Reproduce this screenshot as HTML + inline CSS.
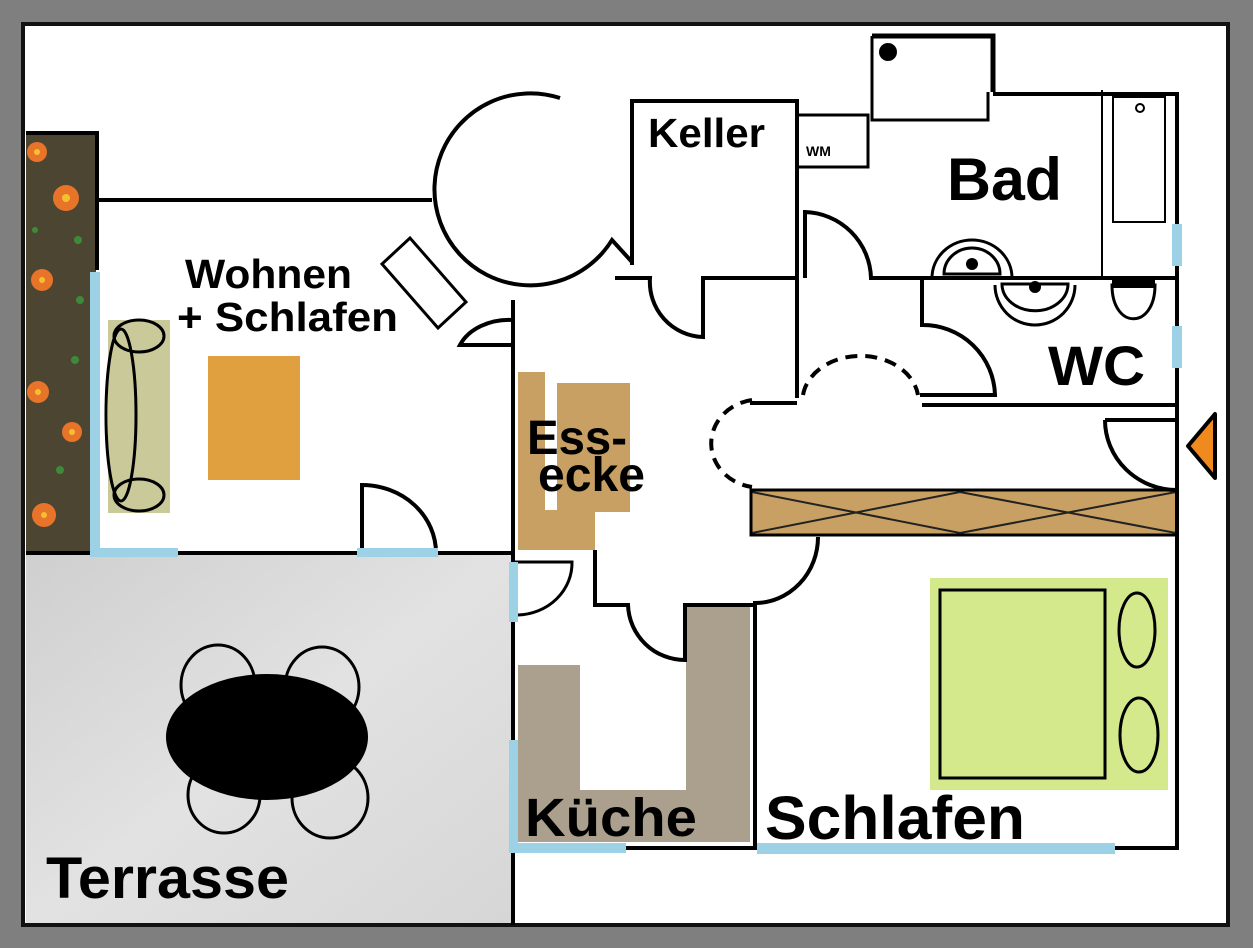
<!DOCTYPE html>
<html><head><meta charset="utf-8"><style>
html,body{margin:0;padding:0;background:#7f7f7f;}
svg{display:block;}
text{font-family:"Liberation Sans",sans-serif;font-weight:bold;fill:#000;}
</style></head><body>
<svg width="1253" height="948" viewBox="0 0 1253 948" xmlns="http://www.w3.org/2000/svg">
<defs>
<linearGradient id="tg" x1="0" y1="0" x2="1" y2="1"><stop offset="0" stop-color="#cfcfcf"/><stop offset="0.5" stop-color="#e2e2e2"/><stop offset="1" stop-color="#d6d6d6"/></linearGradient>
</defs>
<rect x="0" y="0" width="1253" height="948" fill="#7f7f7f"/>
<rect x="23" y="24" width="1205" height="901" fill="#fff" stroke="#111" stroke-width="4"/>
<rect x="26" y="553" width="487" height="370" fill="url(#tg)"/>
<rect x="26" y="133" width="70" height="418" fill="#4b4532"/>
<g fill="#e8742a">
<circle cx="37" cy="152" r="10"/><circle cx="66" cy="198" r="13"/><circle cx="42" cy="280" r="11"/><circle cx="38" cy="392" r="11"/><circle cx="72" cy="432" r="10"/><circle cx="44" cy="515" r="12"/>
</g>
<g fill="#f5c030"><circle cx="37" cy="152" r="3"/><circle cx="66" cy="198" r="4"/><circle cx="42" cy="280" r="3"/><circle cx="38" cy="392" r="3"/><circle cx="72" cy="432" r="3"/><circle cx="44" cy="515" r="3"/></g>
<g fill="#3f8a3a"><circle cx="78" cy="240" r="4"/><circle cx="80" cy="300" r="4"/><circle cx="75" cy="360" r="4"/><circle cx="60" cy="470" r="4"/><circle cx="35" cy="230" r="3"/></g>
<rect x="108" y="320" width="62" height="193" fill="#c9c99a"/>
<rect x="208" y="356" width="92" height="124" fill="#e0a040"/>
<path d="M518 372 H545 V510 H595 V550 H518 Z" fill="#c8a064"/>
<rect x="557" y="383" width="73" height="129" fill="#c8a064"/>
<path d="M518 665 H580 V790 H686 V605 H750 V842 H518 Z" fill="#aba08e"/>
<rect x="930" y="578" width="238" height="212" fill="#d3e98c"/>
<rect x="750" y="490" width="427" height="45" fill="#c8a064"/>
<g stroke="#222" stroke-width="2" fill="none">
<path d="M752 492 L960 533 M752 533 L960 492 M960 492 L1176 533 M960 533 L1176 492"/>
</g>
<g fill="none" stroke="#000" stroke-width="4" stroke-linejoin="miter">
<path d="M26 133 H97 V270"/>
<path d="M97 200 H432"/>
<path d="M560 98 A96 96 0 1 0 612 240 L632 262"/>
<path d="M632 265 V101 H797 V398"/>
<path d="M615 278 H650 A55 55 0 0 0 703 337 V278 H797"/>
<path d="M513 320 A53 40 0 0 0 460 345 H513 V925" />
<path d="M513 300 V345"/>
<path d="M26 553 H513"/>
<path d="M362 553 V485 A74 68 0 0 1 436 553"/>
<path d="M382 264 L410 238 L466 302 L438 328 Z" stroke-width="3"/>
<ellipse cx="121" cy="415" rx="15" ry="86" stroke-width="3"/>
<ellipse cx="139" cy="336" rx="25" ry="16" stroke-width="3"/>
<ellipse cx="139" cy="495" rx="25" ry="16" stroke-width="3"/>
<path d="M797 115 H868 V167 H797" stroke-width="3"/>
<path d="M872 36 H993 V92" stroke-width="5"/>
<path d="M872 36 V120 H988 V92" stroke-width="3"/>
<path d="M993 94 H1177 V850"/>
<path d="M1102 90 V278" stroke-width="2"/>
<rect x="1113" y="97" width="52" height="125" stroke-width="2"/>
<circle cx="1140" cy="108" r="4" stroke-width="2"/>
<path d="M805 278 V212 A68 68 0 0 1 871 278 H1177"/>
<path d="M932 278 A40 38 0 0 1 1012 278" stroke-width="3"/>
<path d="M944 274 A28 26 0 0 1 1000 274 Z" stroke-width="3"/>
<path d="M922 280 V325 A72 72 0 0 1 995 395 H920"/>
<path d="M922 405 H1177"/>
<path d="M995 285 A38 38 0 0 0 1075 285" stroke-width="3"/>
<path d="M1002 284 A32 26 0 0 0 1068 284 Z" stroke-width="3"/>
<path d="M1112 285 C1112 330 1155 330 1155 285 Z" stroke-width="3"/>
<path d="M1112 284 H1155" stroke-width="8"/>
<path d="M750 403 H797"/>
<path d="M803 395 A58 45 0 0 1 918 395" stroke-dasharray="12 8" stroke-width="4"/>
<path d="M752 400 A48 44 0 0 0 752 487" stroke-dasharray="12 8" stroke-width="4"/>
<path d="M1105 420 H1177 M1105 420 A72 70 0 0 0 1177 490"/>
<rect x="751" y="490" width="426" height="45" stroke-width="3"/>
<path d="M818 537 A63 66 0 0 1 755 603 V850"/>
<path d="M595 550 V605 H628 A57 57 0 0 0 685 660 V605 H755"/>
<path d="M513 562 H572 A56 52 0 0 1 518 615" stroke-width="3"/>
<path d="M513 848 H1177"/>
<rect x="940" y="590" width="165" height="188" stroke-width="3"/>
<ellipse cx="1137" cy="630" rx="18" ry="37" stroke-width="3"/>
<ellipse cx="1139" cy="735" rx="19" ry="37" stroke-width="3"/>
<ellipse cx="218" cy="685" rx="37" ry="40" stroke-width="3"/>
<ellipse cx="322" cy="687" rx="37" ry="40" stroke-width="3"/>
<ellipse cx="224" cy="795" rx="36" ry="38" stroke-width="3"/>
<ellipse cx="330" cy="798" rx="38" ry="40" stroke-width="3"/>
</g>
<ellipse cx="267" cy="737" rx="101" ry="63" fill="#000"/>
<ellipse cx="888" cy="52" rx="9" ry="9" fill="#000"/>
<circle cx="972" cy="264" r="6" fill="#000"/>
<circle cx="1035" cy="287" r="6" fill="#000"/>
<g fill="#9dd2e6">
<rect x="90" y="272" width="10" height="283"/>
<rect x="90" y="548" width="88" height="9"/>
<rect x="357" y="548" width="81" height="9"/>
<rect x="509" y="562" width="9" height="60"/>
<rect x="509" y="740" width="9" height="112"/>
<rect x="509" y="843" width="117" height="10"/>
<rect x="757" y="843" width="358" height="11"/>
<rect x="1172" y="224" width="10" height="42"/>
<rect x="1172" y="326" width="10" height="42"/>
</g>
<path d="M1188 446 L1215 414 L1215 478 Z" fill="#f08a1e" stroke="#000" stroke-width="4" stroke-linejoin="round"/>
<text x="185" y="288" font-size="41" textLength="167" lengthAdjust="spacingAndGlyphs">Wohnen</text>
<text x="177" y="331" font-size="41" textLength="221" lengthAdjust="spacingAndGlyphs">+ Schlafen</text>
<text x="648" y="147" font-size="41" textLength="117" lengthAdjust="spacingAndGlyphs">Keller</text>
<text x="806" y="156" font-size="14">WM</text>
<text x="947" y="200" font-size="60" textLength="115" lengthAdjust="spacingAndGlyphs">Bad</text>
<text x="1048" y="385" font-size="56" textLength="97" lengthAdjust="spacingAndGlyphs">WC</text>
<text x="527" y="454" font-size="48" textLength="100" lengthAdjust="spacingAndGlyphs">Ess-</text>
<text x="538" y="491" font-size="48" textLength="107" lengthAdjust="spacingAndGlyphs">ecke</text>
<text x="525" y="836" font-size="54" textLength="172" lengthAdjust="spacingAndGlyphs">Küche</text>
<text x="765" y="839" font-size="61" textLength="260" lengthAdjust="spacingAndGlyphs">Schlafen</text>
<text x="46" y="898" font-size="58" textLength="243" lengthAdjust="spacingAndGlyphs">Terrasse</text>
</svg>
</body></html>
